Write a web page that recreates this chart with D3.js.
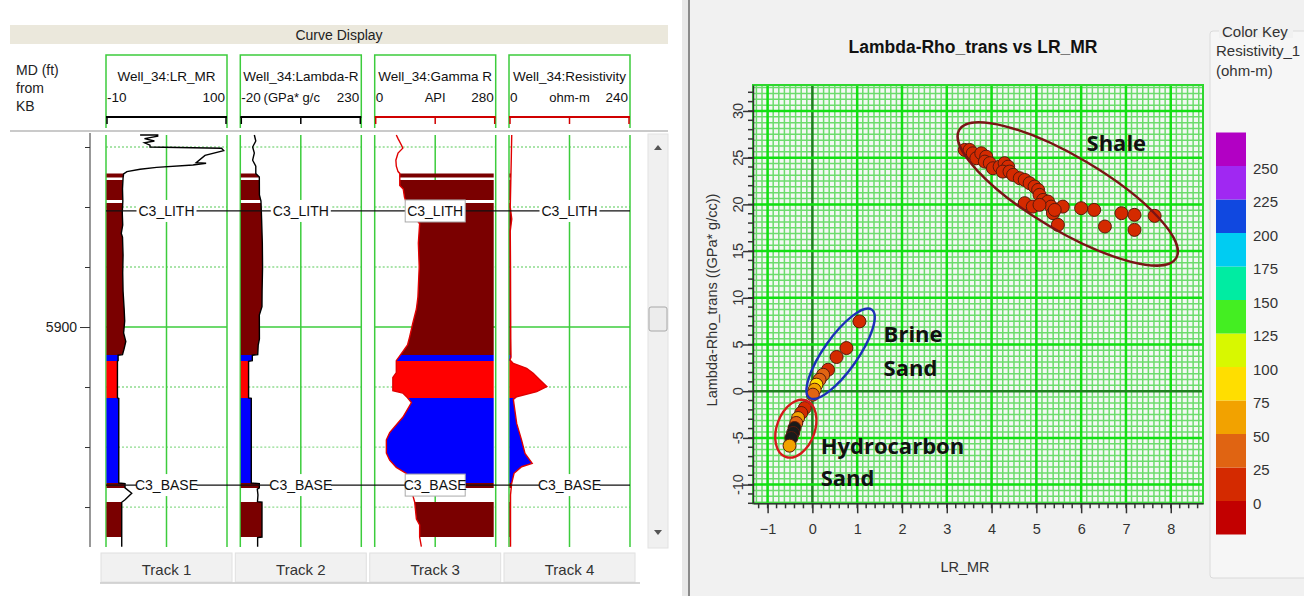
<!DOCTYPE html>
<html>
<head>
<meta charset="utf-8">
<script src="https://cdn.jsdelivr.net/npm/d3@7"></script>
<style>
  body { margin: 0; background: #fff; }
  svg { display: block; font-family: "Liberation Sans", Arial, sans-serif; }
</style>
</head>
<body>
<div id="chart"></div>
<script>

// ---------- log display data ----------
var trackNames = ['Track 1', 'Track 2', 'Track 3', 'Track 4'];
var curveNames = ['Well_34:LR_MR', 'Well_34:Lambda-R', 'Well_34:Gamma R', 'Well_34:Resistivity'];
var curveUnits = ['', '(GPa* g/c', 'API', 'ohm-m'];
var curveMin   = [-10, -20, 0, 0];
var curveMax   = [100, 230, 280, 240];
var depthTicks = [5885, 5890, 5895, 5900, 5905, 5910, 5915];
var depthLabel = 5900;

// [MD ft, value]
var lrmrLog = [[5884.0, 21], [5884.0, 37], [5884.1, 37], [5884.3, 25], [5884.5, 34], [5884.65, 25],
    [5884.85, 30], [5885.0, 30], [5885.1, 95], [5885.3, 97], [5885.7, 80], [5886.3, 72], [5886.35, 81],
    [5886.5, 69], [5886.7, 36], [5886.85, 21], [5887.05, 9], [5887.25, 6], [5887.6, 5.5], [5888.5, 5.0],
    [5889.5, 5.3], [5890.5, 4.8], [5891.5, 5.2], [5892.2, 3.9], [5892.5, 5.0], [5894, 5.5], [5895.5, 5.2],
    [5897, 5.5], [5898.5, 6.5], [5899.5, 7.0], [5900.5, 6.0], [5901.2, 8.0], [5901.8, 6.5], [5902.3, 5.0],
    [5902.35, 1.0], [5902.8, 1.0], [5902.85, 0.4], [5905.9, 0.4], [5905.95, 1.6], [5913.0, 1.6],
    [5913.05, 7.3], [5913.4, 7.3], [5913.85, 13.4], [5914.4, 7.3], [5914.6, 4.3], [5918.3, 4.3]];

var lambdaLog = [[5884.0, 9], [5884.5, 12], [5885.0, 5.5], [5885.5, 9], [5886.1, 5.5], [5886.6, 12],
    [5887.2, 12], [5887.5, 19.3], [5889.0, 19.5], [5889.5, 22.7], [5891.0, 24], [5893, 25.5], [5895, 26],
    [5897, 25], [5898.3, 24.8], [5899.0, 19.3], [5901.0, 19.5], [5901.5, 17], [5902.3, 16],
    [5902.35, 4.8], [5902.8, 4.8], [5902.85, -2.9], [5905.9, -2.9], [5905.95, 2.7], [5913.0, 2.7],
    [5913.05, 19.3], [5913.4, 19.3], [5913.5, 15.1], [5914.0, 16.5], [5914.55, 15.5], [5914.6, 24.8],
    [5917.5, 24.8], [5917.55, 15.8], [5918.3, 15.8]];

var gammaLog = [[5884.0, 50], [5884.3, 54], [5884.85, 62], [5885.1, 65], [5885.5, 54], [5886.1, 49],
    [5886.6, 50], [5887.05, 54], [5887.2, 58], [5888.2, 58], [5888.5, 66], [5889.2, 69], [5889.6, 73],
    [5890.2, 85], [5890.7, 89], [5891.4, 104], [5893, 101], [5895, 103], [5897.5, 100], [5898.5, 96.5],
    [5899.7, 88], [5900.8, 81], [5901.5, 76], [5902.4, 58], [5902.8, 50], [5903.8, 50], [5904.2, 42],
    [5905.3, 42], [5905.5, 65], [5905.9, 76], [5906.3, 85], [5907.5, 65.5], [5908.8, 34.7], [5909.4, 27],
    [5910.5, 27], [5911.1, 34.7], [5911.7, 50], [5912.2, 73], [5913.0, 76], [5913.4, 76], [5914.0, 88],
    [5914.6, 92.6], [5916.0, 96.5], [5916.5, 104], [5917.5, 104], [5918.3, 108]];

var resLog = [[5884.0, 5.4], [5886, 4.5], [5888, 3.5], [5890, 2.5], [5891, 5.5], [5892, 2.5], [5895, 3],
    [5898, 3.2], [5901, 3.5], [5902.5, 4], [5902.75, 2], [5903.03, 8.6], [5903.44, 35], [5903.86, 48],
    [5904.42, 61.5], [5904.97, 75], [5905.39, 55], [5905.81, 15.2], [5906.03, 8.6], [5908.03, 15.2],
    [5909.42, 25], [5910.53, 31.7], [5911.36, 46], [5911.64, 25], [5912.19, 10], [5913.03, 5.3],
    [5914, 3], [5918.3, 3]];

var trackLogs = [lrmrLog, lambdaLog, gammaLog, resLog];

var faciesTop  = [5887.2, 5887.75, 5889.67, 5902.33, 5902.83, 5905.92, 5913.0, 5914.58];
var faciesBase = [5887.54, 5889.42, 5902.33, 5902.83, 5905.92, 5913.0, 5913.42, 5917.5];
var faciesName = ['Shale', 'Shale', 'Shale', 'Brine', 'HC', 'Brine', 'Shale', 'Shale'];

var topNames  = ['C3_LITH', 'C3_BASE'];
var topDepths = [5890.33, 5913.17];

// ---------- crossplot data ----------
var xpLRMR = [3.40, 3.51, 3.58, 3.66, 3.77, 3.88, 3.85, 3.96, 4.03, 4.18, 4.29, 4.37, 4.25, 4.40, 4.48,
    4.63, 4.74, 4.85, 4.96, 5.04, 5.07, 5.15, 5.26, 5.33, 5.37, 5.48, 5.59, 4.74, 4.92, 5.07, 5.41, 6.00,
    6.29, 6.53, 6.90, 7.19, 7.19, 7.64,
    1.05, 0.76, 0.54, 0.35, 0.24, 0.16, 0.09, 0.05, 0.01,
    -0.17, -0.25, -0.32, -0.36, -0.40, -0.43, -0.47, -0.51];
var xpLambda = [25.83, 25.83, 25.47, 24.94, 25.47, 25.11, 24.58, 24.41, 23.87, 24.04, 24.41, 24.04, 23.51,
    23.51, 23.16, 22.80, 22.62, 22.27, 21.90, 21.55, 21.02, 20.48, 20.30, 19.76, 19.06, 17.81, 19.76, 20.13,
    19.76, 19.95, 19.41, 19.59, 19.41, 17.63, 19.06, 18.88, 17.27, 18.77,
    7.47, 4.62, 3.66, 2.30, 1.76, 1.23, 0.70, 0.16, -0.37,
    -1.80, -2.33, -2.87, -3.40, -3.94, -4.47, -5.01, -5.83];
// resistivity (ohm-m) used for the colour; null = no value
var xpRes = [10, 12, 9, 11, 10, 13, 12, 10, 11, 9, 12, 10, 11, 13, 10, 12, 9, 11, 10, 12, 11, 10, 9, 12,
    11, 10, 12, 11, 10, 13, 12, 10, 11, 12, 10, 11, 12, 10,
    12, 14, 15, 18, 30, 35, 85, 60, 40,
    20, 22, 55, 35, null, null, null, 70];

var keyBreaks = [0, 25, 50, 75, 100, 125, 150, 175, 200, 225, 250];
var keyColors = ['#c20000', '#d42a00', '#e06412', '#f2a200', '#ffde00', '#d8f800', '#44ee22',
    '#00eca2', '#00ccf2', '#1048e0', '#a028f2', '#b200c4'];

var annoText = ['Shale', 'Brine', 'Sand', 'Hydrocarbon', 'Sand'];
var annoX    = [6.12, 1.59, 1.59, 0.185, 0.185];
var annoY    = [26.7, 6.26, 2.62, -5.72, -9.14];

var ellipseCx = [5.70, 0.63, -0.37];
var ellipseCy = [21.12, 4.01, -4.01];

// styles
var faciesColor  = {Shale: '#7a0000', HC: '#ff0000', Brine: '#0000ff'};
var curveColor   = ['#000', '#000', '#e00000', '#e00000'];
var scaleColor   = ['#000', '#000', '#d00000', '#d00000'];
var fillSide     = ['left', 'left', 'right', 'left'];
var ellipseRx    = [126, 54, 30];
var ellipseRy    = [37, 17, 19];
var ellipseAngle = [30.6, -54.8, -70];
var ellipseColor = ['#7a1414', '#1c30b8', '#d41a1a'];
var green = '#3ccc3c';

var svg = d3.select('#chart').append('svg').attr('width', 1304).attr('height', 596);

/**
 * Log display on the left
 */
function LogView(svg){
    this.svg = svg;
    this.trackX = [106, 240.3, 374.7, 509];
    this.trackW = 121;
    this.top = 135;
    this.bottom = 547;
}

LogView.prototype.init = function(){
    var self = this;
    this.group = this.svg.append('g');
    this.group.append('rect').attr('width', 684).attr('height', 596).attr('fill', '#fff');

    this.y = d3.scaleLinear().domain([5884, 5918.33]).range([this.top, this.bottom]);
    this.x = curveMin.map(function(m, i){
        return d3.scaleLinear().domain([m, curveMax[i]]).range([self.trackX[i], self.trackX[i] + self.trackW]);
    });

    // title bar
    this.group.append('rect').attr('x', 10).attr('y', 25).attr('width', 658).attr('height', 19)
        .attr('fill', '#ebe8dc');
    this.group.append('text').attr('x', 339).attr('y', 35).attr('text-anchor', 'middle')
        .attr('dominant-baseline', 'central').attr('font-size', 14).attr('fill', '#222').text('Curve Display');

    this.group.selectAll('.md').data(['MD (ft)', 'from', 'KB']).enter()
        .append('text')
        .attr('x', 16)
        .attr('y', function(d, i){ return 70 + i * 18; })
        .attr('dominant-baseline', 'central').attr('font-size', 14).attr('fill', '#222')
        .text(function(d){ return d; });

    this.group.append('line').attr('x1', 10).attr('x2', 668).attr('y1', 131).attr('y2', 131)
        .attr('stroke', '#b8b8b8').attr('stroke-width', 1.5);
};

LogView.prototype.update = function(){
    var self = this, g = this.group, y = this.y;
    var defs = this.svg.append('defs');

    faciesTop.forEach(function(t, i){
        defs.append('clipPath').attr('id', 'zone' + i).append('rect')
            .attr('x', 0).attr('width', 684)
            .attr('y', y(t)).attr('height', y(faciesBase[i]) - y(t));
    });

    // depth axis
    var axis = d3.axisLeft(y).tickValues(depthTicks).tickSize(5).tickSizeOuter(0)
        .tickFormat(function(d){ return d === depthLabel ? String(d) : ''; });
    var ag = g.append('g').attr('transform', 'translate(90,0)').call(axis);
    ag.select('.domain').attr('stroke', '#333').attr('d', 'M0,' + (this.top - 2) + 'V' + this.bottom);
    ag.selectAll('.tick line').attr('stroke', '#333').attr('x2', function(d){ return d === depthLabel ? -10 : -5; });
    ag.selectAll('.tick text').attr('x', -13).attr('font-size', 14).attr('fill', '#222')
        .attr('font-family', '"Liberation Sans", Arial, sans-serif');

    trackNames.forEach(function(name, i){
        var x = self.x[i], x0 = self.trackX[i], x1 = x0 + self.trackW, xm = (x0 + x1) / 2;
        var t = g.append('g');

        // header
        t.append('path').attr('d', 'M' + x0 + ',128V55H' + x1 + 'V128')
            .attr('fill', 'none').attr('stroke', green).attr('stroke-width', 1.5);
        t.append('text').attr('x', xm).attr('y', 76).attr('text-anchor', 'middle')
            .attr('dominant-baseline', 'central').attr('font-size', 13.5).attr('fill', '#111').text(curveNames[i]);
        t.append('text').attr('x', x0 + 1).attr('y', 97).attr('dominant-baseline', 'central')
            .attr('font-size', 13.5).attr('fill', '#111').text(curveMin[i]);
        t.append('text').attr('x', x1 - 2).attr('y', 97).attr('text-anchor', 'end').attr('dominant-baseline', 'central')
            .attr('font-size', 13.5).attr('fill', '#111').text(curveMax[i]);
        var ticks = [x0 + 1, x1 - 1];
        if (curveUnits[i]) {
            t.append('text').attr('x', i === 1 ? xm - 9 : xm).attr('y', 97).attr('text-anchor', 'middle')
                .attr('dominant-baseline', 'central').attr('font-size', 13).attr('fill', '#111').text(curveUnits[i]);
            ticks.push(xm);
        }
        t.append('line').attr('x1', x0).attr('x2', x1).attr('y1', 117).attr('y2', 117)
            .attr('stroke', scaleColor[i]).attr('stroke-width', 2);
        t.selectAll('.tk').data(ticks).enter().append('line')
            .attr('x1', function(d){ return d; }).attr('x2', function(d){ return d; })
            .attr('y1', 117).attr('y2', 124).attr('stroke', scaleColor[i]).attr('stroke-width', 1.5);

        // grid
        t.selectAll('.hg').data(depthTicks).enter().append('line')
            .attr('x1', x0).attr('x2', x1)
            .attr('y1', function(d){ return y(d); }).attr('y2', function(d){ return y(d); })
            .attr('stroke', function(d){ return d === depthLabel ? green : '#8fdc8f'; })
            .attr('stroke-width', function(d){ return d === depthLabel ? 1.5 : 1.3; })
            .attr('stroke-dasharray', function(d){ return d === depthLabel ? null : '2,2'; });
        t.selectAll('.vg').data([x0, xm, x1]).enter().append('line')
            .attr('x1', function(d){ return d; }).attr('x2', function(d){ return d; })
            .attr('y1', self.top).attr('y2', self.bottom)
            .attr('stroke', green).attr('stroke-width', 1.5);

        // lithology fills
        var area = d3.area().y(function(d){ return y(d[0]); });
        if (fillSide[i] === 'left') {
            area.x0(x0 + 0.5).x1(function(d){ return x(d[1]); });
        } else {
            area.x0(function(d){ return x(d[1]); }).x1(x1 - 2);
        }
        faciesName.forEach(function(f, k){
            t.append('path').datum(trackLogs[i]).attr('d', area)
                .attr('clip-path', 'url(#zone' + k + ')')
                .attr('fill', faciesColor[f]);
        });

        // curve
        var line = d3.line().x(function(d){ return x(d[1]); }).y(function(d){ return y(d[0]); });
        t.append('path').datum(trackLogs[i]).attr('d', line)
            .attr('fill', 'none').attr('stroke', curveColor[i]).attr('stroke-width', 1.4);

        // bottom label
        t.append('rect').attr('x', x0 - 5).attr('y', 553).attr('width', x1 - x0 + 10).attr('height', 29)
            .attr('fill', '#f1f1f1').attr('stroke', '#e0e0e0');
        t.append('text').attr('x', xm).attr('y', 569).attr('text-anchor', 'middle')
            .attr('dominant-baseline', 'central').attr('font-size', 15).attr('fill', '#333').text(name);
    });

    g.append('line').attr('x1', 100).attr('x2', 640).attr('y1', 583).attr('y2', 583)
        .attr('stroke', '#c8c8c8').attr('stroke-width', 1.5);

    // formation tops
    topNames.forEach(function(name, k){
        var ty = y(topDepths[k]);
        g.append('line').attr('x1', self.trackX[0]).attr('x2', self.trackX[3] + self.trackW)
            .attr('y1', ty).attr('y2', ty).attr('stroke', '#111').attr('stroke-width', 1.3);
        self.trackX.forEach(function(x0, i){
            var xm = x0 + self.trackW / 2;
            var w = name.length * 8 + 4;
            g.append('rect').attr('x', xm - w / 2).attr('y', ty - 11).attr('width', w).attr('height', 22)
                .attr('fill', '#fff').attr('stroke', i === 2 ? '#aaa' : 'none');
            g.append('text').attr('x', xm).attr('y', ty).attr('text-anchor', 'middle')
                .attr('dominant-baseline', 'central').attr('font-size', 14).attr('fill', '#111').text(name);
        });
    });

    // scroll bar
    g.append('rect').attr('x', 648).attr('y', 134).attr('width', 20).attr('height', 414)
        .attr('fill', '#f0f0f0').attr('stroke', '#e2e2e2');
    g.append('path').attr('d', 'M654,150L658,145L662,150Z').attr('fill', '#555');
    g.append('path').attr('d', 'M654,530L658,535L662,530Z').attr('fill', '#555');
    g.append('rect').attr('x', 649).attr('y', 307).attr('width', 18).attr('height', 24).attr('rx', 2)
        .attr('fill', '#ececec').attr('stroke', '#a8a8a8');

    // splitter
    this.svg.append('rect').attr('x', 682).attr('y', 0).attr('width', 6).attr('height', 596).attr('fill', '#e8e8e8');
    this.svg.append('line').attr('x1', 689).attr('x2', 689).attr('y1', 0).attr('y2', 596)
        .attr('stroke', '#8a8a8a').attr('stroke-width', 2);
};

/**
 * Crossplot on the right
 */
function CrossplotView(svg){
    this.svg = svg;
    this.left = 753; this.right = 1203;
    this.top = 85; this.bottom = 503.3;
}

CrossplotView.prototype.init = function(){
    this.group = this.svg.append('g');
    this.group.append('rect').attr('x', 690).attr('width', 614).attr('height', 596).attr('fill', '#f1f1f1');
    this.x = d3.scaleLinear().domain([-1.326, 8.72]).range([this.left, this.right]);
    this.y = d3.scaleLinear().domain([-12, 32.78]).range([this.bottom, this.top]);
    this.color = d3.scaleThreshold().domain(keyBreaks).range(keyColors);
};

CrossplotView.prototype.update = function(){
    var self = this, g = this.group, x = this.x, y = this.y;
    var L = this.left, R = this.right, T = this.top, B = this.bottom;

    g.append('text').attr('x', 973).attr('y', 47).attr('text-anchor', 'middle')
        .attr('dominant-baseline', 'central').attr('font-size', 17.5).attr('font-weight', 'bold')
        .attr('fill', '#111').text('Lambda-Rho_trans vs LR_MR');

    // grid
    g.append('rect').attr('x', L).attr('y', T).attr('width', R - L).attr('height', B - T).attr('fill', '#f4f8f4');
    var gx = g.append('g');
    var xMinor = d3.range(-10, 70).map(function(i){ return i / 8; });
    var yMinor = d3.range(-19, 53).map(function(i){ return i * 0.625; });
    gx.selectAll('.vx').data(xMinor).enter().append('line')
        .attr('x1', function(d){ return x(d); }).attr('x2', function(d){ return x(d); })
        .attr('y1', T).attr('y2', B).attr('stroke', '#6cdc6c').attr('stroke-width', 1.5);
    gx.selectAll('.hy').data(yMinor).enter().append('line')
        .attr('y1', function(d){ return y(d); }).attr('y2', function(d){ return y(d); })
        .attr('x1', L).attr('x2', R).attr('stroke', '#6cdc6c').attr('stroke-width', 1.5);
    gx.selectAll('.vX').data(d3.range(-1, 9)).enter().append('line')
        .attr('x1', function(d){ return x(d); }).attr('x2', function(d){ return x(d); })
        .attr('y1', T).attr('y2', B)
        .attr('stroke', function(d){ return d === 0 ? '#1f7f1f' : '#12e012'; }).attr('stroke-width', 2.5);
    gx.selectAll('.hY').data(d3.range(-10, 31, 5)).enter().append('line')
        .attr('y1', function(d){ return y(d); }).attr('y2', function(d){ return y(d); })
        .attr('x1', L).attr('x2', R)
        .attr('stroke', function(d){ return d === 0 ? '#1f7f1f' : '#12e012'; }).attr('stroke-width', 2.5);
    g.append('rect').attr('x', L).attr('y', T).attr('width', R - L).attr('height', B - T)
        .attr('fill', 'none').attr('stroke', '#2ed82e').attr('stroke-width', 2);

    // axes
    var xAxis = d3.axisBottom(x).tickValues(d3.range(-1, 9)).tickSize(10).tickSizeOuter(0).tickPadding(10);
    var xa = g.append('g').attr('transform', 'translate(0,' + B + ')').call(xAxis);
    xa.selectAll('.tick text').attr('font-size', 14.5).attr('fill', '#333')
        .attr('font-family', '"Liberation Sans", Arial, sans-serif');
    xa.append('g').selectAll('line').data(d3.range(-6, 44).map(function(i){ return i / 5; })).enter()
        .append('line').attr('x1', function(d){ return x(d); }).attr('x2', function(d){ return x(d); })
        .attr('y1', 0).attr('y2', 5).attr('stroke', '#333');
    xa.selectAll('line').attr('stroke', '#333').attr('stroke-width', 1.5);
    xa.select('.domain').attr('stroke', '#333').attr('stroke-width', 1.5);

    var yAxis = d3.axisLeft(y).tickValues(d3.range(-10, 31, 5)).tickSize(10).tickSizeOuter(0).tickFormat('');
    var ya = g.append('g').attr('transform', 'translate(' + L + ',0)').call(yAxis);
    ya.append('g').selectAll('line').data(d3.range(-12, 33)).enter()
        .append('line').attr('y1', function(d){ return y(d); }).attr('y2', function(d){ return y(d); })
        .attr('x1', 0).attr('x2', -5);
    ya.selectAll('line').attr('stroke', '#333').attr('stroke-width', 1.5);
    ya.select('.domain').attr('stroke', '#333').attr('stroke-width', 1.5);
    g.selectAll('.ylab').data(d3.range(-10, 31, 5)).enter().append('text')
        .attr('transform', function(d){ return 'translate(738,' + y(d) + ') rotate(-90)'; })
        .attr('text-anchor', 'middle').attr('dominant-baseline', 'central')
        .attr('font-size', 14.5).attr('fill', '#333').text(function(d){ return d; });

    g.append('text').attr('x', 965).attr('y', 567).attr('text-anchor', 'middle')
        .attr('dominant-baseline', 'central').attr('font-size', 14.5).attr('fill', '#333').text('LR_MR');
    g.append('text').attr('transform', 'translate(712,300) rotate(-90)').attr('text-anchor', 'middle')
        .attr('dominant-baseline', 'central').attr('font-size', 14.5).attr('fill', '#333')
        .text('Lambda-Rho_trans ((GPa* g/cc))');

    // points
    g.selectAll('.pt').data(xpLRMR).enter().append('circle')
        .attr('cx', function(d){ return x(d); })
        .attr('cy', function(d, i){ return y(xpLambda[i]); })
        .attr('r', 6.5)
        .attr('fill', function(d, i){ return xpRes[i] === null ? '#1a1a1a' : self.color(xpRes[i]); })
        .attr('stroke', '#5a1a0c').attr('stroke-width', 1);

    // zone outlines and labels
    ellipseCx.forEach(function(cx, i){
        g.append('ellipse')
            .attr('transform', 'translate(' + x(cx) + ',' + y(ellipseCy[i]) + ') rotate(' + ellipseAngle[i] + ')')
            .attr('rx', ellipseRx[i]).attr('ry', ellipseRy[i])
            .attr('fill', 'none').attr('stroke', ellipseColor[i]).attr('stroke-width', 2.4);
    });
    g.selectAll('.anno').data(annoText).enter().append('text')
        .attr('x', function(d, i){ return x(annoX[i]); })
        .attr('y', function(d, i){ return y(annoY[i]); })
        .attr('dominant-baseline', 'central')
        .attr('font-family', '"Open Sans", "Noto Sans", sans-serif')
        .attr('font-size', 22).attr('font-weight', 'bold').attr('fill', '#111')
        .text(function(d){ return d; });

    // colour key
    var k = g.append('g');
    k.append('rect').attr('x', 1210).attr('y', 31).attr('width', 100).attr('height', 547).attr('rx', 3)
        .attr('fill', '#f6f6f6').attr('stroke', '#dadada');
    k.append('rect').attr('x', 1219).attr('y', 24).attr('width', 74).attr('height', 14).attr('fill', '#f1f1f1');
    k.selectAll('.kt').data(['Color Key', 'Resistivity_1', '(ohm-m)']).enter().append('text')
        .attr('x', function(d, i){ return i === 0 ? 1222 : 1216; })
        .attr('y', function(d, i){ return 31 + i * 19.5; })
        .attr('dominant-baseline', 'central').attr('font-size', 15).attr('fill', '#333')
        .text(function(d){ return d; });

    var seg = 33.5, barBottom = 534.5;
    var ky = d3.scaleLinear().domain([-25, 275]).range([barBottom, barBottom - seg * 12]);
    k.selectAll('.ks').data(keyColors).enter().append('rect')
        .attr('x', 1216).attr('width', 30)
        .attr('y', function(d, i){ return ky(i * 25); })
        .attr('height', seg)
        .attr('fill', function(d){ return d; });
    k.selectAll('.kl').data(keyBreaks).enter().append('text')
        .attr('x', 1253).attr('y', function(d){ return ky(d) + 2; })
        .attr('dominant-baseline', 'central').attr('font-size', 15).attr('fill', '#333')
        .text(function(d){ return d; });
};

var logs = new LogView(svg);
logs.init();
logs.update();

var xplot = new CrossplotView(svg);
xplot.init();
xplot.update();

</script>
</body>
</html>
